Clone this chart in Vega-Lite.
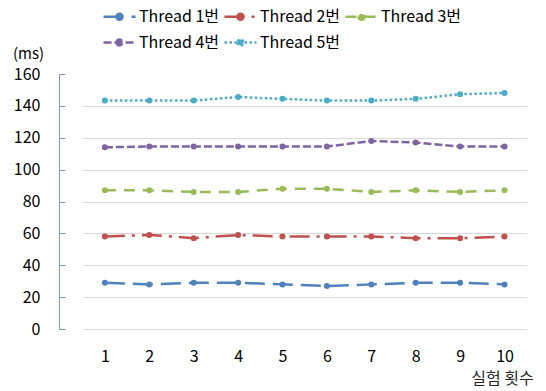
{
  "$schema": "https://vega.github.io/schema/vega-lite/v6.json",
  "width": 487,
  "height": 255,
  "autosize": {"type": "none"},
  "padding": {"left": 59, "top": 74, "right": 0, "bottom": 62},
  "background": "white",
  "config": {
    "font": "Noto Sans CJK KR",
    "view": {"stroke": null}
  },
  "data": {
    "values": [
      {"run": "1", "thread": "Thread 1번", "ms": 29},
      {"run": "2", "thread": "Thread 1번", "ms": 28},
      {"run": "3", "thread": "Thread 1번", "ms": 29},
      {"run": "4", "thread": "Thread 1번", "ms": 29},
      {"run": "5", "thread": "Thread 1번", "ms": 28},
      {"run": "6", "thread": "Thread 1번", "ms": 27},
      {"run": "7", "thread": "Thread 1번", "ms": 28},
      {"run": "8", "thread": "Thread 1번", "ms": 29},
      {"run": "9", "thread": "Thread 1번", "ms": 29},
      {"run": "10", "thread": "Thread 1번", "ms": 28},
      {"run": "1", "thread": "Thread 2번", "ms": 58},
      {"run": "2", "thread": "Thread 2번", "ms": 59},
      {"run": "3", "thread": "Thread 2번", "ms": 57},
      {"run": "4", "thread": "Thread 2번", "ms": 59},
      {"run": "5", "thread": "Thread 2번", "ms": 58},
      {"run": "6", "thread": "Thread 2번", "ms": 58},
      {"run": "7", "thread": "Thread 2번", "ms": 58},
      {"run": "8", "thread": "Thread 2번", "ms": 57},
      {"run": "9", "thread": "Thread 2번", "ms": 57},
      {"run": "10", "thread": "Thread 2번", "ms": 58},
      {"run": "1", "thread": "Thread 3번", "ms": 87},
      {"run": "2", "thread": "Thread 3번", "ms": 87},
      {"run": "3", "thread": "Thread 3번", "ms": 86},
      {"run": "4", "thread": "Thread 3번", "ms": 86},
      {"run": "5", "thread": "Thread 3번", "ms": 88},
      {"run": "6", "thread": "Thread 3번", "ms": 88},
      {"run": "7", "thread": "Thread 3번", "ms": 86},
      {"run": "8", "thread": "Thread 3번", "ms": 87},
      {"run": "9", "thread": "Thread 3번", "ms": 86},
      {"run": "10", "thread": "Thread 3번", "ms": 87},
      {"run": "1", "thread": "Thread 4번", "ms": 114},
      {"run": "2", "thread": "Thread 4번", "ms": 114.5},
      {"run": "3", "thread": "Thread 4번", "ms": 114.5},
      {"run": "4", "thread": "Thread 4번", "ms": 114.5},
      {"run": "5", "thread": "Thread 4번", "ms": 114.5},
      {"run": "6", "thread": "Thread 4번", "ms": 114.5},
      {"run": "7", "thread": "Thread 4번", "ms": 118},
      {"run": "8", "thread": "Thread 4번", "ms": 117},
      {"run": "9", "thread": "Thread 4번", "ms": 114.5},
      {"run": "10", "thread": "Thread 4번", "ms": 114.5},
      {"run": "1", "thread": "Thread 5번", "ms": 143.3},
      {"run": "2", "thread": "Thread 5번", "ms": 143.3},
      {"run": "3", "thread": "Thread 5번", "ms": 143.3},
      {"run": "4", "thread": "Thread 5번", "ms": 145.6},
      {"run": "5", "thread": "Thread 5번", "ms": 144.4},
      {"run": "6", "thread": "Thread 5번", "ms": 143.3},
      {"run": "7", "thread": "Thread 5번", "ms": 143.3},
      {"run": "8", "thread": "Thread 5번", "ms": 144.4},
      {"run": "9", "thread": "Thread 5번", "ms": 147.3},
      {"run": "10", "thread": "Thread 5번", "ms": 148.1}
    ]
  },
  "mark": {
    "type": "line",
    "strokeWidth": 2.5,
    "point": {"filled": true, "size": 36}
  },
  "encoding": {
    "x": {
      "field": "run",
      "type": "ordinal",
      "sort": ["1", "2", "3", "4", "5", "6", "7", "8", "9", "10"],
      "scale": {"type": "point", "range": [23.7, 467.7]},
      "axis": {
        "title": "실험 횟수",
        "titleFontSize": 16,
        "titleFontWeight": "normal",
        "titleColor": "#262626",
        "titleX": 443,
        "titleY": 49,
        "titleAlign": "center",
        "titleBaseline": "middle",
        "labelAngle": 0,
        "labelFontSize": 16,
        "labelColor": "#000000",
        "labelPadding": 19,
        "ticks": false,
        "domain": false,
        "grid": false
      }
    },
    "y": {
      "field": "ms",
      "type": "quantitative",
      "scale": {"domain": [0, 160], "nice": false},
      "axis": {
        "title": "(ms)",
        "titleAngle": 0,
        "titleFontSize": 15,
        "titleFontWeight": "normal",
        "titleColor": "#000000",
        "titleX": -31,
        "titleY": -21,
        "titleAlign": "center",
        "titleBaseline": "middle",
        "values": [0, 20, 40, 60, 80, 100, 120, 140, 160],
        "labelFontSize": 16,
        "labelColor": "#000000",
        "labelPadding": 25,
        "domainColor": "#8497b8",
        "tickColor": "#8497b8",
        "tickSize": -6,
        "gridColor": "#d9d9d9",
        "gridOpacity": {"condition": {"test": "datum.value == 160", "value": 0}, "value": 1}
      }
    },
    "color": {
      "field": "thread",
      "type": "nominal",
      "scale": {
        "domain": ["Thread 1번", "Thread 2번", "Thread 3번", "Thread 4번", "Thread 5번"],
        "range": ["#4f81bd", "#c0504d", "#9bbb59", "#8064a2", "#4bacc6"]
      },
      "legend": {
        "title": null,
        "orient": "none",
        "legendX": 43,
        "legendY": -75,
        "direction": "horizontal",
        "columns": 3,
        "symbolType": "M-1,0H1M-0.19,0A0.19,0.19 0 1,0 0.19,0A0.19,0.19 0 1,0 -0.19,0",
        "symbolSize": 1024,
        "symbolStrokeWidth": 2.5,
        "labelFontSize": 16,
        "labelColor": "#000000",
        "labelOffset": 2,
        "columnPadding": -1,
        "rowPadding": -4,
        "encode": {"symbols": {"update": {"fill": {"scale": "color", "field": "value"}}}}
      }
    },
    "strokeDash": {
      "field": "thread",
      "type": "nominal",
      "scale": {
        "domain": ["Thread 1번", "Thread 2번", "Thread 3번", "Thread 4번", "Thread 5번"],
        "range": [[20, 8], [20, 7, 3, 7], [11, 8], [8, 3], [2.5, 2.5]]
      },
      "legend": {
        "title": null,
        "orient": "none",
        "legendX": 43,
        "legendY": -75,
        "direction": "horizontal",
        "columns": 3,
        "symbolType": "M-1,0H1M-0.19,0A0.19,0.19 0 1,0 0.19,0A0.19,0.19 0 1,0 -0.19,0",
        "symbolSize": 1024,
        "symbolStrokeWidth": 2.5,
        "labelFontSize": 16,
        "labelColor": "#000000",
        "labelOffset": 2,
        "columnPadding": -1,
        "rowPadding": -4,
        "encode": {"symbols": {"update": {"fill": {"scale": "color", "field": "value"}}}}
      }
    }
  }
}
